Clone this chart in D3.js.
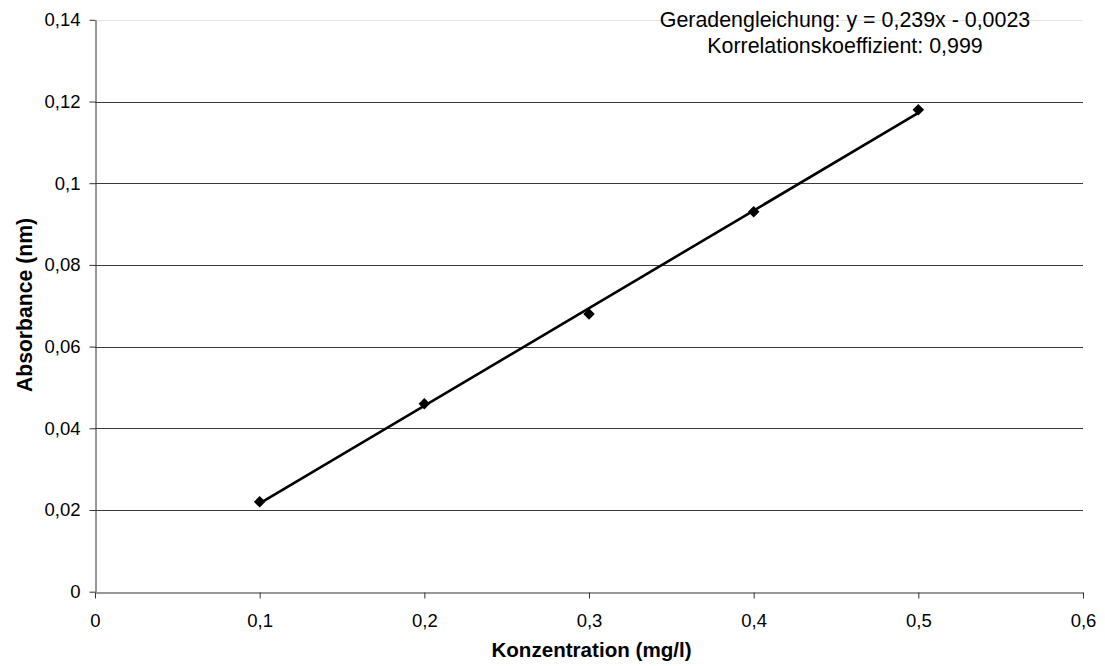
<!DOCTYPE html>
<html>
<head>
<meta charset="utf-8">
<script src="https://cdn.jsdelivr.net/npm/d3@7"></script>
<style>
  html, body { margin: 0; padding: 0; background: #fff; }
  svg { display: block; font-family: "Liberation Sans", Arial, sans-serif; }
</style>
</head>
<body>
<svg id="chart" width="1105" height="666"></svg>
<script>
// Calibration measurements
const concentrations = [0.1, 0.2, 0.3, 0.4, 0.5];
const absorbances = [0.022, 0.046, 0.068, 0.093, 0.118];

// Linear fit parameters
const slope = 0.239;
const intercept = -0.0023;

const xTicks = [0, 0.1, 0.2, 0.3, 0.4, 0.5, 0.6];
const yTicks = [0, 0.02, 0.04, 0.06, 0.08, 0.1, 0.12, 0.14];

const annotationLines = [
  "Geradengleichung: y = 0,239x - 0,0023",
  "Korrelationskoeffizient: 0,999"
];

const svg = d3.select("#chart");
const margin = { left: 95, right: 1083, top: 19.8, bottom: 591.7 };

const x = d3.scaleLinear().domain([0, 0.6]).range([margin.left, margin.right]);
const y = d3.scaleLinear().domain([0, 0.14]).range([margin.bottom, margin.top]);

const fmt = v => String(+v.toFixed(2)).replace(".", ",");
const FONT = "Liberation Sans, Arial, sans-serif";

// Horizontal gridlines
svg.append("g")
  .selectAll("line")
  .data(yTicks.filter(d => d > 0))
  .join("line")
  .attr("x1", margin.left).attr("x2", margin.right)
  .attr("y1", d => Math.round(y(d)) + 0.5).attr("y2", d => Math.round(y(d)) + 0.5)
  .attr("stroke", d => d === 0.14 ? "#e4e4e4" : "#3a3a3a")
  .attr("stroke-width", 1);

// Y axis
const yAxis = svg.append("g")
  .attr("transform", `translate(${margin.left + 0.5},0)`)
  .call(d3.axisLeft(y).tickValues(yTicks).tickFormat(fmt).tickSizeInner(6).tickSizeOuter(0).tickPadding(9));
yAxis.select(".domain").attr("stroke", "#333");
yAxis.selectAll(".tick line").attr("stroke", "#333");
yAxis.selectAll(".tick text").attr("font-size", 18.5).attr("fill", "#000")
  .attr("font-family", FONT);

// X axis
const xAxis = svg.append("g")
  .attr("transform", `translate(0,${Math.round(margin.bottom) + 0.5})`)
  .call(d3.axisBottom(x).tickValues(xTicks).tickFormat(fmt).tickSizeInner(6).tickSizeOuter(0).tickPadding(0));
xAxis.select(".domain").attr("stroke", "#333");
xAxis.selectAll(".tick line").attr("stroke", "#333");
xAxis.selectAll(".tick text").attr("font-size", 18.5).attr("fill", "#000")
  .attr("font-family", FONT).attr("dy", null).attr("y", 34);

// Regression line over the measured range
const xExt = d3.extent(concentrations);
svg.append("line")
  .attr("x1", x(xExt[0])).attr("y1", y(slope * xExt[0] + intercept))
  .attr("x2", x(xExt[1])).attr("y2", y(slope * xExt[1] + intercept))
  .attr("stroke", "#000").attr("stroke-width", 2.6);

// Diamond markers
const diamond = d3.symbol().type(d3.symbolDiamond2).size(85);
svg.append("g")
  .selectAll("path")
  .data(concentrations.map((c, i) => [c, absorbances[i]]))
  .join("path")
  .attr("d", diamond)
  .attr("transform", d => `translate(${x(d[0])},${y(d[1])})`)
  .attr("fill", "#000");

// Axis titles
svg.append("text")
  .attr("x", 591.5).attr("y", 657)
  .attr("text-anchor", "middle").attr("font-size", 20.6).attr("font-weight", "bold")
  .text("Konzentration (mg/l)");

svg.append("text")
  .attr("transform", `translate(31.5,305) rotate(-90)`)
  .attr("text-anchor", "middle").attr("font-size", 21.2).attr("font-weight", "bold")
  .text("Absorbance (nm)");

// Fit annotation
svg.append("g")
  .selectAll("text")
  .data(annotationLines)
  .join("text")
  .attr("x", 845).attr("y", (d, i) => 27 + i * 26)
  .attr("text-anchor", "middle").attr("font-size", 21.4)
  .text(d => d);
</script>
</body>
</html>
